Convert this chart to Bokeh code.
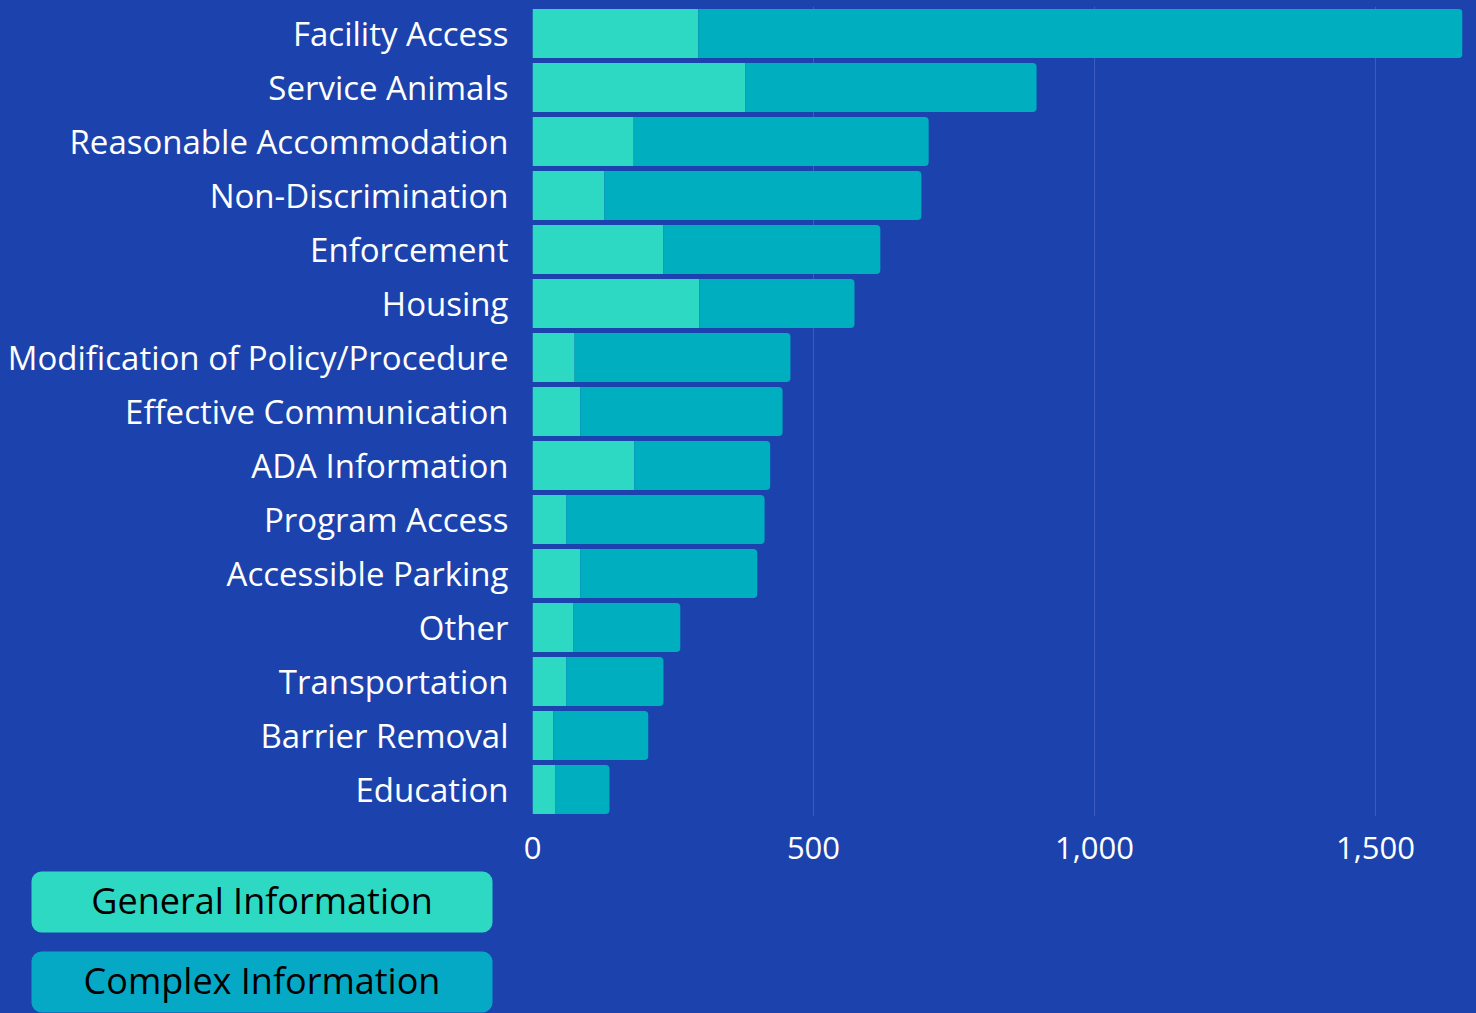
from bokeh.plotting import figure
from bokeh.models import ColumnDataSource, FixedTicker, NumeralTickFormatter, Range1d
from bokeh.layouts import column
from bokeh.transform import stack
from bokeh.core.properties import value
from bokeh.embed import file_html
from bokeh.resources import INLINE

categories = ["Facility Access", "Service Animals", "Reasonable Accommodation",
              "Non-Discrimination", "Enforcement", "Housing",
              "Modification of Policy/Procedure", "Effective Communication",
              "ADA Information", "Program Access", "Accessible Parking", "Other",
              "Transportation", "Barrier Removal", "Education"]
general = [295, 379, 180, 128, 233, 297, 75, 85, 181, 60, 85, 73, 60, 37, 41]
complex_ = [1360, 518, 525, 564, 386, 276, 384, 360, 242, 353, 315, 190, 173, 169, 96]
x_ticks = [0, 500, 1000, 1500]
legend_labels = ["General Information", "Complex Information"]

BG = "#1c43ad"
C_GEN = "#2ed9c3"
C_CPX = "#00afbf"
C_CPX_LEG = "#05a9c5"
FONT = "Open Sans"

src = ColumnDataSource(dict(cat=categories, general=general, complex=complex_))

p = figure(width=1476, height=866, y_range=list(reversed(categories)),
           x_range=Range1d(0, max(g + c for g, c in zip(general, complex_))),
           output_backend="svg", toolbar_location=None,
           background_fill_color=BG, border_fill_color=BG, outline_line_color=None,
           min_border_left=532, min_border_right=14, min_border_top=6, min_border_bottom=50)

p.hbar(y="cat", left=stack(), right=stack("general"), height=0.907, source=src,
       fill_color=C_GEN, line_color=None)
p.hbar(y="cat", left=stack("general"), right=stack("general", "complex"), height=0.907,
       source=src, fill_color=C_CPX, line_color=None, border_radius=(0, 4, 4, 0))

p.xaxis.ticker = FixedTicker(ticks=x_ticks)
p.xaxis.formatter = NumeralTickFormatter(format="0,0")
for ax in (p.xaxis[0], p.yaxis[0]):
    ax.axis_line_color = None
    ax.major_tick_line_color = None
    ax.minor_tick_line_color = None
    ax.major_label_text_color = "white"
    ax.major_label_text_font = FONT
p.yaxis.major_label_text_font_size = "33px"
p.xaxis.major_label_text_font_size = "31px"
p.xaxis.major_label_standoff = 14
p.yaxis.major_label_standoff = 18
p.ygrid.grid_line_color = None
p.xgrid.grid_line_color = "#3a5cbf"
p.xgrid.grid_line_width = 1

# legend strip below the chart (data units == pixels)
lg = figure(width=1476, height=147, x_range=Range1d(0, 1476), y_range=Range1d(0, 147),
            output_backend="svg", toolbar_location=None,
            background_fill_color=BG, border_fill_color=BG, outline_line_color=None,
            min_border=0)
lg.axis.visible = False
lg.grid.visible = False
for fig in (p, lg):
    if "frame_align" in fig.properties():
        fig.frame_align = False

leg_src = ColumnDataSource(dict(label=legend_labels, color=[C_GEN, C_CPX_LEG],
                                left=[31, 31], right=[492, 492],
                                top=[142, 62], bottom=[81, 1], ty=[113.5, 33.5]))
lg.quad(left="left", right="right", top="top", bottom="bottom", fill_color="color",
        line_color=None, border_radius=10, source=leg_src)
lg.text(x=261.5, y="ty", text="label", source=leg_src, text_align="center",
        text_baseline="middle", text_font=value(FONT), text_font_size="36px",
        text_color="black")

layout = column(p, lg, spacing=0)
layout.styles = {"background-color": BG}

html = file_html(layout, INLINE)
html = html.replace("<body>", f'<body style="background-color:{BG};">')
open("out.html", "w").write(html)
